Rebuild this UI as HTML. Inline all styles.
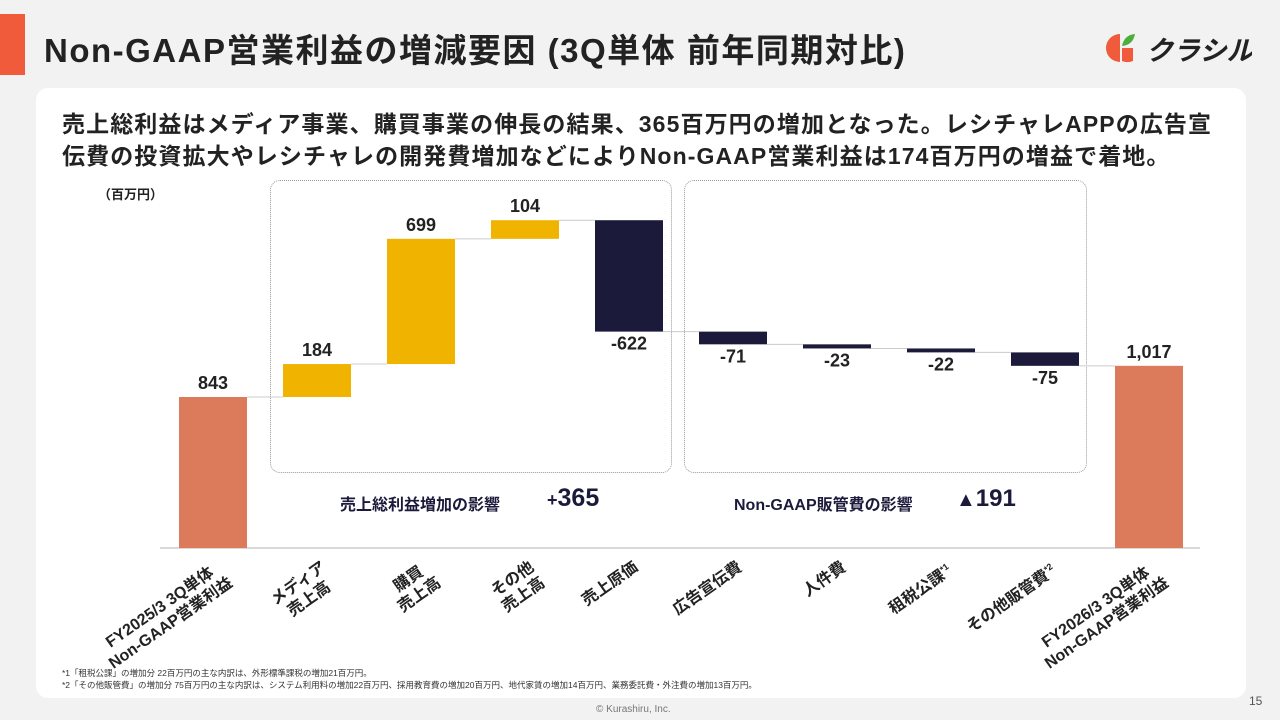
<!DOCTYPE html>
<html><head><meta charset="utf-8">
<style>
*{margin:0;padding:0;box-sizing:border-box}
body{width:1280px;height:720px;background:#f2f2f2;position:relative;overflow:hidden;font-family:"Liberation Sans","Noto Sans CJK JP",sans-serif;color:#222}
.abs{position:absolute}
#title{left:44px;top:24px;font-size:33px;font-weight:bold;color:#222;white-space:nowrap;letter-spacing:1.5px}
#panel{left:36px;top:88px;width:1210px;height:610px;background:#fff;border-radius:12px}
.lead{left:62px;font-size:23px;font-weight:bold;white-space:nowrap;color:#222;letter-spacing:1.1px}
.xl{position:absolute;transform-origin:100% 0;transform:rotate(-35deg);text-align:center;font-size:16px;font-weight:bold;line-height:19px;white-space:nowrap;color:#222}
.xl sup{font-size:9px}
.fn{left:62px;font-size:8.5px;color:#333;white-space:nowrap}
.imp{position:absolute;font-weight:bold;color:#1b1a3a;white-space:nowrap}
</style></head><body>
<div class="abs" style="left:0;top:14px;width:25px;height:61px;background:#ef5b3b"></div>
<div class="abs" id="title">Non-GAAP営業利益の増減要因 (3Q単体 前年同期対比)</div>
<div class="abs" style="left:1102px;top:30px;width:150px;height:36px">
<svg width="150" height="36"><path d="M18 4 A14 14 0 0 0 18 32 Z" fill="#ef5b3b"/><path d="M20 18 L31 18 L31 31 A14 14 0 0 1 20 31 Z" fill="#ef5b3b"/><path d="M20 16 Q22 5 33 4 Q31 15 20 16 Z" fill="#4caf3a"/>
<text x="44" y="30" font-size="27" font-weight="bold" fill="#222" font-family="Liberation Sans, Noto Sans CJK JP, sans-serif" font-style="italic">クラシル</text></svg></div>
<div class="abs" id="panel"></div>
<div class="abs lead" style="top:105px">売上総利益はメディア事業、購買事業の伸長の結果、365百万円の増加となった。レシチャレAPPの広告宣</div>
<div class="abs lead" style="top:137px">伝費の投資拡大やレシチャレの開発費増加などによりNon-GAAP営業利益は174百万円の増益で着地。</div>
<div class="abs" style="left:98px;top:184px;font-size:13px;font-weight:bold">（百万円）</div>
<div class="abs" style="left:270px;top:180px;width:402px;height:293px;border:1.5px dotted #999;border-radius:10px"></div>
<div class="abs" style="left:684px;top:180px;width:403px;height:293px;border:1.5px dotted #999;border-radius:10px"></div>
<div class="imp" style="left:340px;top:491px;font-size:16px">売上総利益増加の影響</div>
<div class="imp" style="left:547px;top:484px;font-size:25px"><span style="font-size:18px">+</span>365</div>
<div class="imp" style="left:734px;top:491px;font-size:16px">Non-GAAP販管費の影響</div>
<div class="imp" style="left:956px;top:485px;font-size:24px"><span style="font-size:20px">▲</span>191</div>
<svg class="abs" id="chart" style="left:0;top:0" width="1280" height="720"></svg>
<div id="xlabels"></div>
<div class="abs fn" style="top:667px">*1「租税公課」の増加分 22百万円の主な内訳は、外形標準課税の増加21百万円。</div>
<div class="abs fn" style="top:679px">*2「その他販管費」の増加分 75百万円の主な内訳は、システム利用料の増加22百万円、採用教育費の増加20百万円、地代家賃の増加14百万円、業務委託費・外注費の増加13百万円。</div>
<div class="abs" style="left:1249px;top:694px;font-size:12px;color:#555">15</div>
<div class="abs" style="left:596px;top:704px;font-size:10px;color:#777">© Kurashiru, Inc.</div>
<script>
const categories=["FY2025/3 3Q単体<br>Non-GAAP営業利益","メディア<br>売上高","購買<br>売上高","その他<br>売上高","売上原価","広告宣伝費","人件費","租税公課<sup>*1</sup>","その他販管費<sup>*2</sup>","FY2026/3 3Q単体<br>Non-GAAP営業利益"];
const values=[843,184,699,104,-622,-71,-23,-22,-75,1017];
const kinds=["total","up","up","up","down","down","down","down","down","total"];
const valueLabels=["843","184","699","104","-622","-71","-23","-22","-75","1,017"];
const NS="http://www.w3.org/2000/svg";
const svg=document.getElementById('chart');
const baseY=548,scale=151/843,x0=213,step=104,bw=68;
const y=v=>baseY-v*scale;
const xc=i=>x0+i*step;
const colors={total:"#dc7a5c",up:"#efb300",down:"#1b1a3a"};
function mk(t,a){const e=document.createElementNS(NS,t);for(const k in a)e.setAttribute(k,a[k]);svg.appendChild(e);return e;}
const axis=mk('line',{x1:160,x2:1200,y1:baseY,y2:baseY,stroke:"#ccc","stroke-width":1.5});


let cum=0;
values.forEach((v,i)=>{
  let top,bot,prev=cum;
  if(kinds[i]==="total"){cum=v;top=y(v);bot=y(0);}
  else{cum=prev+v;top=y(Math.max(prev,cum));bot=y(Math.min(prev,cum));}
  if(i>0){const c=mk('line',{x1:xc(i-1)+bw/2,x2:xc(i)-bw/2,y1:y(prev),y2:y(prev),stroke:"#ccc","stroke-width":1});
    
    }
  const r=mk('rect',{x:xc(i)-bw/2,y:top,width:bw,height:Math.max(bot-top,1),fill:colors[kinds[i]]});
  
  
  const ly=(kinds[i]==="down")?bot+18:top-8;
  const t=mk('text',{x:xc(i),y:ly,"text-anchor":"middle","font-size":18,"font-weight":"bold",fill:"#222","font-family":"Liberation Sans, sans-serif"});
  t.textContent=valueLabels[i];
  
  
});
const xl=document.getElementById('xlabels');
categories.forEach((c,i)=>{
  const d=document.createElement('div');
  d.className='xl';
  d.innerHTML=c;
  d.style.right=(1280-xc(i)-2)+'px';
  d.style.top='558px';
  
  
  xl.appendChild(d);
});
</script>
</body></html>
